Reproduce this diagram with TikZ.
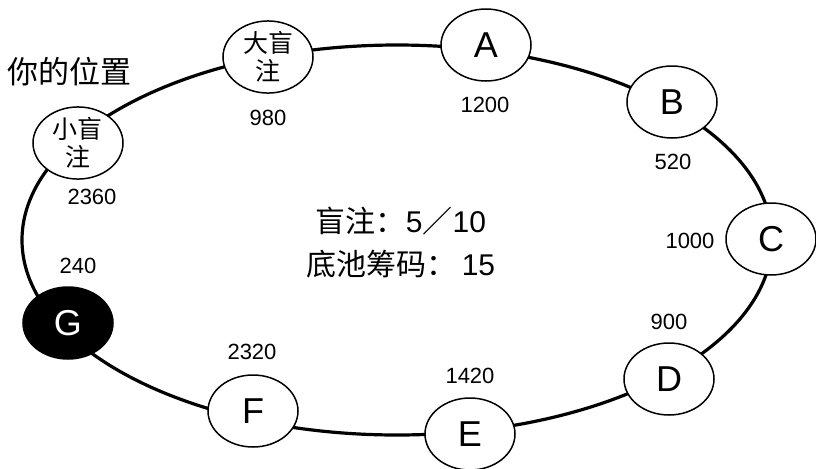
\documentclass[tikz,border=0pt]{standalone}
\usepackage{fontspec}
\setmainfont{Liberation Sans}
\newfontfamily\cjk{Noto Sans CJK SC}
\usetikzlibrary{shapes.geometric,backgrounds}
\begin{document}
\begin{tikzpicture}[x=0.5pt,y=-0.5pt,
  seat/.style={draw, line width=0.75pt, ellipse, fill=white, inner sep=0pt,
    minimum width=45pt, minimum height=36pt, font=\fontsize{18}{18}\selectfont},
  cjkseat/.style={seat, align=center, font=\cjk\fontsize{12.5}{14}\selectfont},
  hero/.style={seat, fill=black, text=white},
  chips/.style={font=\fontsize{11}{11}\selectfont, inner sep=0pt},
  track/.style={line width=1.6pt}]
\useasboundingbox (0,0) rectangle (816,468);
% seats
\node[cjkseat, minimum height=30pt] (sb) at (78,143) {小盲\\注};
\node[cjkseat] (bb) at (268,57) {大盲\\注};
\node[seat] (A) at (486,45) {A};
\node[seat] (B) at (672,102) {B};
\node[seat] (C) at (771,239) {C};
\node[seat] (D) at (669,379) {D};
\node[seat] (E) at (470,434) {E};
\node[seat] (F) at (253,411) {F};
\node[hero] (G) at (68,323) {G};
\coordinate (table) at (397,240);
% table edge
\begin{scope}[on background layer]
\fill[white] (0,0) rectangle (816,468);
\draw[track] (table) ellipse[x radius=375, y radius=195];
\end{scope}
% chip counts
\node[chips] (n980) at (268,118) {980};
\node[chips] (n1200) at (485,105) {1200};
\node[chips] (n520) at (673,162) {520};
\node[chips] (n1000) at (690,241) {1000};
\node[chips] (n900) at (669,322) {900};
\node[chips] (n1420) at (470,376) {1420};
\node[chips] (n2320) at (252,352) {2320};
\node[chips] (n240) at (78,266) {240};
\node[chips] (n2360) at (92,197) {2360};
% labels
\node[inner sep=0pt, font=\cjk\fontsize{15.5}{15.5}\selectfont] (you) at (70,72) {你的位置};
\node[inner sep=0pt, align=center, font=\fontsize{15}{21.5}\selectfont] (info) at (401,243)
  {{\cjk 盲注：}5{\cjk ／}10\\{\cjk 底池筹码：}\,15};
\end{tikzpicture}
\end{document}
